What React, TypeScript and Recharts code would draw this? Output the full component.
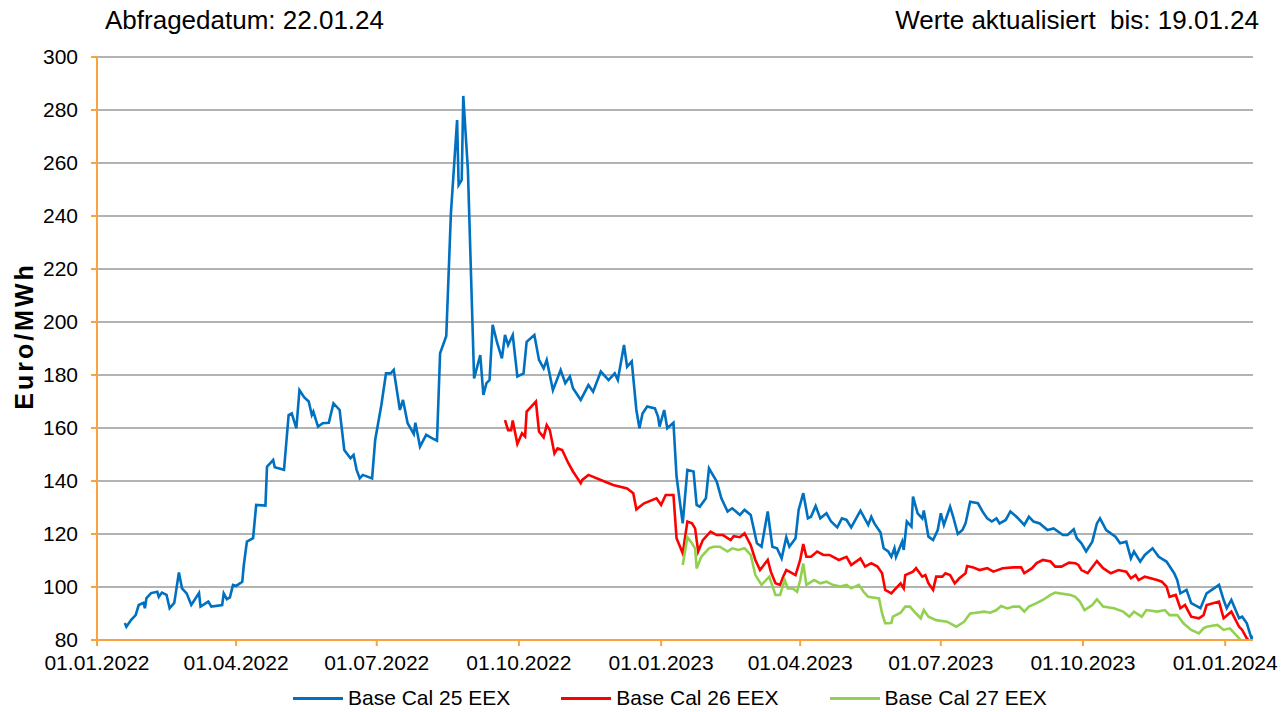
import { CartesianGrid, Line, LineChart, XAxis, YAxis } from "recharts";

// x values are days since 01.01.2022
const tickDays = [0, 90, 181, 273, 365, 455, 546, 638, 730];
const tickLabels = [
  "01.01.2022",
  "01.04.2022",
  "01.07.2022",
  "01.10.2022",
  "01.01.2023",
  "01.04.2023",
  "01.07.2023",
  "01.10.2023",
  "01.01.2024",
];
const yTicks = [80, 100, 120, 140, 160, 180, 200, 220, 240, 260, 280, 300];

const seriesNames = ["Base Cal 25 EEX", "Base Cal 26 EEX", "Base Cal 27 EEX"];
const seriesColors = ["#0070C0", "#FF0000", "#92D050"];

const cal25Days = [
  18, 19, 22, 25, 27, 30, 31, 32, 35, 39,
  40, 42, 45, 47, 50, 53, 55, 58, 61, 66,
  67, 72, 74, 81, 82, 84, 86, 88, 90, 94,
  95, 97, 101, 103, 109, 110, 114, 115, 121, 124,
  126, 129, 131, 134, 137, 139, 140, 143, 146, 150,
  153, 157, 160, 164, 166, 168, 170, 172, 178, 180,
  184, 187, 190, 192, 196, 198, 201, 205, 206, 209,
  213, 217, 220, 222, 226, 229, 233, 234, 236, 237,
  240, 244, 248, 250, 252, 254, 256, 259, 262, 264,
  266, 269, 272, 276, 278, 283, 286, 289, 291, 295,
  300, 303, 306, 308, 313, 318, 321, 326, 331, 335,
  337, 341, 343, 346, 349, 351, 353, 356, 361, 363,
  364, 367, 369, 373, 375, 379, 382, 386, 388, 390,
  394, 396, 401, 404, 408, 411, 416, 419, 423, 427,
  430, 434, 437, 440, 443, 446, 448, 452, 454, 457,
  460, 462, 465, 468, 472, 475, 479, 482, 485, 488,
  494, 499, 501, 503, 507, 509, 512, 514, 516, 517,
  521, 522, 524, 527, 528, 531, 534, 535, 538, 541,
  544, 546, 548, 552, 554, 557, 560, 562, 565, 570,
  573, 576, 579, 582, 584, 588, 591, 595, 600, 603,
  606, 610, 615, 619, 625, 628, 632, 634, 637, 640,
  644, 647, 649, 653, 659, 662, 666, 669, 671, 675,
  678, 683, 687, 692, 697, 699, 701, 705, 708, 714,
  718, 726, 729, 731, 734, 739, 741, 744, 747, 748,
];
const cal25Values = [
  86.4, 85, 87.5, 89.4, 93.2, 94, 92, 95.8, 97.7, 98.2,
  96.3, 97.9, 97, 92, 94, 105.5, 99.5, 97.6, 93.2, 97.7,
  92.6, 94.5, 92.6, 93.2, 97.6, 95.4, 96.1, 100.8, 100.4, 102,
  108.3, 117.1, 118.4, 131, 130.7, 145.4, 147.9, 145.2, 144.2, 164.9,
  165.5, 159.9, 174.3, 171.6, 170, 164.9, 166.2, 160.5, 161.8, 162,
  169.3, 166.8, 151.7, 148.6, 149.8, 144.2, 141, 142.3, 141, 155.5,
  168.7, 180.6, 180.6, 181.9, 166.8, 170.6, 161.8, 157.7, 162, 153,
  157.4, 156.1, 155.2, 188.2, 194.7, 241, 276.2, 251.7, 253.6, 285.3,
  257.4, 178.7, 187.5, 172.5, 176.9, 178.1, 198.9, 192, 186.3, 195.1,
  191.3, 195.1, 179.4, 180.6, 192.5, 195.1, 185.7, 182.5, 185.7, 174.3,
  181.9, 176.9, 179.4, 175, 170.6, 176.2, 173.7, 181.3, 178.1, 180.6,
  178.1, 191.3, 183.1, 185.1, 166.8, 159.9, 165.5, 168.1, 167.4, 164.3,
  160.5, 166.8, 159.9, 162, 141.7, 124, 144.2, 143.6, 131, 130.3,
  133.5, 144.8, 139.8, 133.5, 128.5, 129.7, 127.2, 129.1, 127.2, 116.5,
  115.2, 128.5, 115.2, 114.6, 110.8, 118.8, 115.2, 118.4, 129.1, 135.4,
  125.9, 126.5, 130.6, 125.9, 127.8, 124.7, 122.5, 125.9, 125.3, 122.5,
  128.8, 123.4, 126.5, 124, 120.6, 114.6, 113.4, 111.4, 114.6, 111.4,
  117.1, 114, 124.7, 122.8, 134.1, 127.8, 125.9, 128.9, 119, 117.7,
  121.5, 127.8, 123.4, 130.3, 126.5, 120, 121.5, 124, 132.2, 131.6,
  128.5, 125.9, 124.7, 125.9, 124, 125.3, 128.5, 126.5, 123.4, 126.5,
  124.7, 124, 121.5, 122.1, 119.6, 119.6, 121.8, 118.4, 116.5, 113.4,
  117.1, 124, 125.9, 121.5, 119, 116.5, 117.1, 110.8, 113.4, 109.6,
  112.1, 114.6, 111.4, 109.6, 105.2, 102.6, 97.6, 98.9, 93.9, 92,
  97.6, 100.8, 95.1, 92, 95.1, 88.2, 88.8, 86.3, 80.6, 81.5,
];

const cal26Days = [
  264, 266, 268, 269, 272, 275, 277, 278, 281, 284,
  286, 289, 291, 293, 296, 298, 301, 305, 308, 313,
  314, 318, 326, 334, 343, 347, 349, 354, 362, 365,
  368, 373, 375, 379, 382, 385, 387, 389, 392, 397,
  401, 405, 410, 412, 416, 419, 423, 426, 429, 434,
  436, 439, 442, 444, 446, 448, 452, 455, 457, 459,
  462, 466, 470, 474, 480, 485, 488, 494, 497, 501,
  505, 508, 510, 514, 516, 520, 522, 523, 528, 530,
  534, 536, 538, 541, 543, 547, 549, 552, 555, 558,
  562, 563, 567, 571, 576, 580, 586, 593, 598, 600,
  605, 608, 612, 617, 620, 624, 629, 633, 635, 637,
  641, 647, 651, 656, 661, 666, 669, 672, 674, 678,
  686, 689, 692, 694, 698, 701, 704, 708, 713, 716,
  718, 726, 729, 734, 739, 741, 744, 745,
];
const cal26Values = [
  163, 159.2, 159.2, 162.8, 154, 158, 156.8, 166.2, 168.1, 170,
  158.7, 156.5, 161.1, 159.2, 150.4, 152.3, 151.7, 146.7, 143.6, 139.2,
  140.4, 142.3, 140.4, 138.5, 137.2, 135.4, 129.3, 131.6, 133.5, 131,
  134.7, 134.7, 118.4, 112.7, 124.7, 124, 122.1, 113.4, 117.7, 120.9,
  119.6, 119.6, 117.7, 119.2, 118.8, 120.3, 115.8, 110.2, 106.4, 110.2,
  105.8, 101.4, 100.8, 103.9, 106.4, 105.8, 104.5, 110.2, 116.2, 111.4,
  111.4, 113.4, 112.1, 112.1, 110.2, 111.4, 108.3, 110.8, 107.7, 109,
  107.7, 105.2, 98.9, 97.6, 98.9, 101.4, 99.5, 104.5, 105.8, 107.1,
  103.9, 104.5, 101.4, 98.9, 103.9, 103.9, 105.2, 104.5, 101.4, 103.3,
  105.2, 107.9, 107.4, 106.4, 107.1, 105.8, 107.1, 107.4, 107.4, 105.2,
  107.1, 109, 110.2, 109.6, 107.7, 107.7, 109.2, 109, 108.3, 106.4,
  105.2, 109.8, 107.1, 105.2, 106.4, 105.8, 103.3, 104.5, 102.6, 103.9,
  102.6, 102, 100.2, 96.3, 97, 92, 93.2, 88.8, 88.2, 89.4,
  93.2, 94.5, 88.2, 90.7, 85, 83.8, 80.6, 80,
];

const cal27Days = [
  379, 382, 385, 387, 388, 391, 396, 399, 403, 408,
  411, 415, 419, 423, 426, 430, 435, 439, 442, 445,
  447, 450, 453, 455, 457, 459, 464, 468, 472, 476,
  481, 485, 488, 493, 496, 499, 506, 508, 509, 510,
  512, 514, 515, 520, 523, 526, 530, 533, 535, 538,
  543, 550, 556, 561, 565, 569, 574, 578, 582, 585,
  589, 593, 597, 600, 603, 608, 612, 617, 620, 623,
  630, 633, 636, 639, 644, 647, 651, 658, 664, 668,
  671, 676, 679, 686, 691, 694, 699, 703, 708, 713,
  716, 718, 725, 729, 733, 738, 740,
];
const cal27Values = [
  108.3, 118.8, 116.5, 114.6, 107, 111.4, 114.6, 115.2, 115.2, 113.4,
  114.6, 114, 114.6, 112.1, 104.5, 100.8, 103.9, 97, 97, 102.6,
  99.5, 99.5, 98.2, 102.6, 108.9, 100.8, 102.6, 101.4, 102, 100.8,
  100.2, 100.8, 99.5, 100.8, 98.2, 96.3, 95.7, 90, 88.2, 86.3,
  86.3, 86.5, 88.8, 90.3, 92.6, 92.6, 90, 88.2, 91.3, 88.8,
  87.5, 86.9, 85, 86.9, 90, 90.3, 90.7, 90.3, 91.3, 92.8,
  91.9, 92.6, 92.6, 90.7, 92.6, 93.9, 95.1, 97, 97.9, 97.6,
  97, 96.3, 94.5, 91.3, 93.2, 95.4, 92.6, 92, 90.7, 88.8,
  90.7, 88.8, 91.3, 90.7, 91.3, 89.4, 89.4, 86.3, 83.8, 82.5,
  84.4, 85, 85.7, 83.8, 84.4, 81.3, 80,
];

const toPoints = (days: number[], values: number[]) =>
  days.map((day, i) => ({ day, value: values[i] }));

const seriesData = [
  toPoints(cal25Days, cal25Values),
  toPoints(cal26Days, cal26Values),
  toPoints(cal27Days, cal27Values),
];

const AXIS = "#F9A33E";
const FONT = "'Liberation Sans', Arial, sans-serif";

export default function App() {
  return (
    <div
      style={{
        position: "absolute",
        top: 0,
        left: 0,
        width: 1287,
        height: 712,
        background: "#fff",
        fontFamily: FONT,
        color: "#000",
      }}
    >
      <div style={{ position: "absolute", left: 105, top: 5, fontSize: 26 }}>
        Abfragedatum: 22.01.24
      </div>
      <div
        style={{
          position: "absolute",
          right: 28,
          top: 5,
          fontSize: 26,
          whiteSpace: "pre",
        }}
      >
        {"Werte aktualisiert  bis: 19.01.24"}
      </div>
      <div
        style={{
          position: "absolute",
          left: 24,
          top: 336,
          fontSize: 25,
          fontWeight: "bold",
          letterSpacing: 3,
          transform: "translate(-50%, -50%) rotate(-90deg)",
          whiteSpace: "nowrap",
        }}
      >
        Euro/MWh
      </div>

      <LineChart
        width={1287}
        height={712}
        margin={{ top: 57, right: 34, bottom: 42, left: 37 }}
      >
        <CartesianGrid
          horizontal
          vertical={false}
          stroke="#9a9a9a"
          strokeWidth={1.5}
        />
        <XAxis
          type="number"
          dataKey="day"
          domain={[0, 748]}
          ticks={tickDays}
          interval={0}
          allowDataOverflow
          height={30}
          tickFormatter={(d: number) => tickLabels[tickDays.indexOf(d)]}
          stroke={AXIS}
          strokeWidth={2}
          tickSize={6}
          tickMargin={9}
          tick={{ fill: "#000", fontSize: 21, fontFamily: FONT }}
        />
        <YAxis
          type="number"
          domain={[80, 300]}
          ticks={yTicks}
          interval={0}
          allowDataOverflow
          width={60}
          stroke={AXIS}
          strokeWidth={2}
          tickSize={6}
          tickMargin={13}
          tick={{ fill: "#000", fontSize: 21, fontFamily: FONT }}
        />
        {seriesData.map((data, i) => (
          <Line
            key={seriesNames[i]}
            data={data}
            dataKey="value"
            name={seriesNames[i]}
            type="linear"
            stroke={seriesColors[i]}
            strokeWidth={2.6}
            dot={false}
            activeDot={false}
            isAnimationActive={false}
          />
        ))}
      </LineChart>

      <div
        style={{
          position: "absolute",
          left: 293,
          top: 686,
          display: "flex",
          gap: 51,
          fontSize: 21,
          whiteSpace: "nowrap",
        }}
      >
        {seriesNames.map((name, i) => (
          <div
            key={name}
            style={{ display: "flex", alignItems: "center", gap: 5 }}
          >
            <div style={{ width: 50, height: 3, background: seriesColors[i] }} />
            <span>{name}</span>
          </div>
        ))}
      </div>
    </div>
  );
}
